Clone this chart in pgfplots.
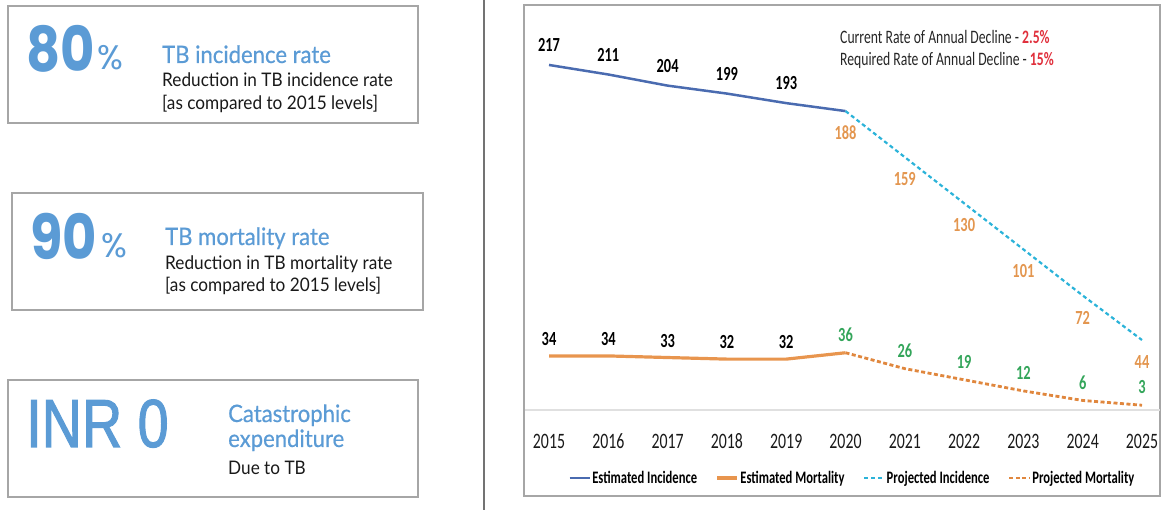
\documentclass[border=0pt]{standalone}
\usepackage{pgfplots}
\pgfplotsset{compat=1.18}
\usepackage{fontspec}
\setmainfont{Carlito}
\newfontfamily\chartfont[FakeStretch=0.72]{Carlito}
\newfontfamily\boxfont[FakeStretch=0.92]{Lato}
\newfontfamily\titlefont[FakeStretch=0.92, FakeBold=0.6]{Lato}
\newfontfamily\bigfont[FakeStretch=0.85]{Poppins}
\newfontfamily\pctfont{Poppins}
\newfontfamily\inrfont[FakeStretch=0.82, FakeBold=1.5]{Liberation Sans}

\definecolor{blueText}{HTML}{5B9BD5}
\definecolor{incid}{HTML}{4A6BB0}
\definecolor{mort}{HTML}{E8954E}
\definecolor{projInc}{HTML}{2BB3D9}
\definecolor{projMort}{HTML}{E0873E}
\definecolor{orangeLab}{HTML}{E3964F}
\definecolor{greenLab}{HTML}{33A55A}
\definecolor{redLab}{HTML}{E0303C}
\definecolor{frame}{HTML}{A6A6A6}

\pgfplotsset{
  lab/.style={draw=none, forget plot, point meta=explicit symbolic, nodes near coords,
    every node near coord/.append style={anchor=center, font=\chartfont\bfseries\fontsize{20}{20}\selectfont}},
}

\begin{document}
\begin{tikzpicture}
\begin{scope}[x=1pt,y=1pt]
\useasboundingbox (0,0) rectangle (1162,510);

% left panel boxes
\draw[frame, line width=1.5pt] (8,387) rectangle (418,504);
\draw[frame, line width=1.5pt] (12,200) rectangle (423,317);
\draw[frame, line width=1.5pt] (8,13) rectangle (418,130);
\draw[black!55, line width=1.5pt] (484,0) -- (484,510);

\node[anchor=base west, inner sep=0, text=blueText, font=\bigfont\bfseries\fontsize{62}{62}\selectfont] at (26,438) {80};
\node[anchor=base west, inner sep=0, text=blueText, font=\pctfont\fontsize{34}{34}\selectfont] at (97,440) {\%};
\node[anchor=base west, inner sep=0, text=blueText, font=\titlefont\fontsize{24}{24}\selectfont] at (162,447) {TB incidence rate};
\node[anchor=base west, inner sep=0, text=black!90, font=\boxfont\fontsize{18.7}{18.7}\selectfont] at (162,423) {Reduction in TB incidence rate};
\node[anchor=base west, inner sep=0, text=black!90, font=\boxfont\fontsize{18.7}{18.7}\selectfont] at (162,400) {[as compared to 2015 levels]};

\node[anchor=base west, inner sep=0, text=blueText, font=\bigfont\bfseries\fontsize{62}{62}\selectfont] at (30,250) {90};
\node[anchor=base west, inner sep=0, text=blueText, font=\pctfont\fontsize{34}{34}\selectfont] at (101,252) {\%};
\node[anchor=base west, inner sep=0, text=blueText, font=\titlefont\fontsize{24}{24}\selectfont] at (165,265) {TB mortality rate};
\node[anchor=base west, inner sep=0, text=black!90, font=\boxfont\fontsize{18.7}{18.7}\selectfont] at (165,240) {Reduction in TB mortality rate};
\node[anchor=base west, inner sep=0, text=black!90, font=\boxfont\fontsize{18.7}{18.7}\selectfont] at (165,218) {[as compared to 2015 levels]};

\node[anchor=base west, inner sep=0, text=blueText, font=\inrfont\fontsize{68}{68}\selectfont] at (26,63) {INR 0};
\node[anchor=base west, inner sep=0, text=blueText, font=\titlefont\fontsize{24}{24}\selectfont] at (228,88) {Catastrophic};
\node[anchor=base west, inner sep=0, text=blueText, font=\titlefont\fontsize{24}{24}\selectfont] at (228,63) {expenditure};
\node[anchor=base west, inner sep=0, text=black!90, font=\boxfont\fontsize{18.7}{18.7}\selectfont] at (228,35) {Due to TB};

% right panel frame and note
\draw[frame, line width=1.5pt] (524,14) rectangle (1160,505);
\node[anchor=west, inner sep=0, font=\chartfont\fontsize{19}{19}\selectfont, text=black!85] at (840,473) {Current Rate of Annual Decline - \textcolor{redLab}{\bfseries 2.5\%}};
\node[anchor=west, inner sep=0, font=\chartfont\fontsize{19}{19}\selectfont, text=black!85] at (840,450) {Required Rate of Annual Decline - \textcolor{redLab}{\bfseries 15\%}};
\end{scope}

\begin{axis}[
  at={(525.3pt,100pt)}, anchor=south west,
  scale only axis, width=634.5pt, height=397.5pt,
  xmin=2014.6, xmax=2025.3, ymin=0, ymax=250,
  axis y line=none, axis x line*=bottom,
  x axis line style={-, draw=black!12, line width=1.2pt},
  xtick={2015,2016,2017,2018,2019,2020,2021,2022,2023,2024,2025},
  xticklabels={2015,2016,2017,2018,2019,2020,2021,2022,2023,2024,2025},
  major tick length=0pt,
  xticklabel style={font=\chartfont\fontsize{22}{22}\selectfont, text=black!90, anchor=base, yshift=-39pt},
  clip=false,
  legend columns=4,
  legend style={draw=none, fill=none, at={(0.515,-0.171)}, anchor=center,
    font=\chartfont\bfseries\fontsize{17.5}{17.5}\selectfont,
    nodes={inner xsep=1.5pt},
    /tikz/every even column/.append style={column sep=17pt}},
  legend image code/.code={\draw[#1] (0pt,0pt) -- (20pt,0pt);},
]
\addplot[incid, line width=2.5pt] coordinates {(2015,217) (2016,211) (2017,204) (2018,199) (2019,193) (2020,188)};
\addlegendentry{Estimated Incidence}
\addplot[mort, line width=3.2pt] coordinates {(2015,34) (2016,34) (2017,33) (2018,32) (2019,32) (2020,36)};
\addlegendentry{Estimated Mortality}
\addplot[projInc, line width=2.2pt, dash pattern=on 4pt off 3pt] coordinates {(2020,188) (2021,159) (2022,130) (2023,101) (2024,72) (2025,44)};
\addlegendentry{Projected Incidence}
\addplot[projMort, line width=2.8pt, dash pattern=on 4pt off 2.5pt] coordinates {(2020,36) (2021,26) (2022,19) (2023,12) (2024,6) (2025,3)};
\addlegendentry{Projected Mortality}

% data labels
\addplot[lab, every node near coord/.append style={yshift=20pt, text=black}] coordinates {(2015,217)[217] (2016,211)[211] (2017,204)[204] (2018,199)[199] (2019,193)[193]};
\addplot[lab, every node near coord/.append style={yshift=-22pt, text=orangeLab}] coordinates {(2020,188)[188] (2021,159)[159] (2022,130)[130] (2023,101)[101] (2024,72)[72] (2025,44)[44]};
\addplot[lab, every node near coord/.append style={yshift=17pt, text=black}] coordinates {(2015,34)[34] (2016,34)[34] (2017,33)[33] (2018,32)[32] (2019,32)[32]};
\addplot[lab, every node near coord/.append style={yshift=18pt, text=greenLab}] coordinates {(2020,36)[36] (2021,26)[26] (2022,19)[19] (2023,12)[12] (2024,6)[6] (2025,3)[3]};
\end{axis}
\end{tikzpicture}
\end{document}
